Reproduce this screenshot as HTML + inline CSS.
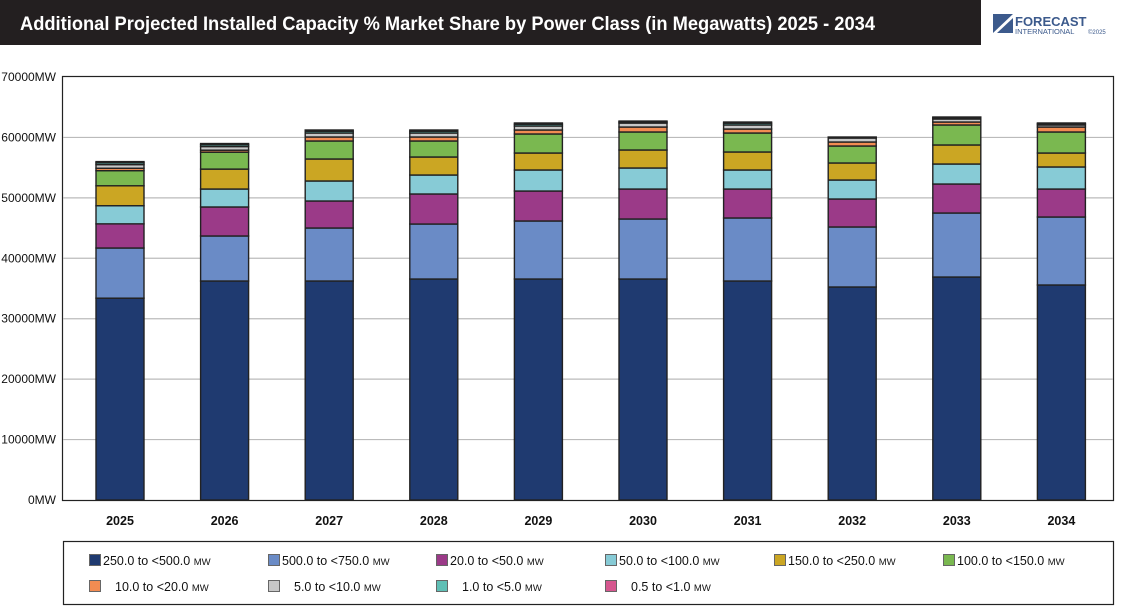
<!DOCTYPE html>
<html><head><meta charset="utf-8"><style>
body{margin:0;background:#fff;font-family:"Liberation Sans",Arial,sans-serif;}
#wrap{position:relative;width:1121px;height:611px;overflow:hidden;background:#fff}
</style></head><body>
<div id="wrap">
<svg id="svg" width="1121" height="611" xmlns="http://www.w3.org/2000/svg">
<rect x="0" y="0" width="981" height="45" fill="#231f20"/>
<text x="20" y="30" fill="#fff" font-size="19" font-weight="bold" textLength="855" lengthAdjust="spacingAndGlyphs">Additional Projected Installed Capacity % Market Share by Power Class (in Megawatts) 2025 - 2034</text>
<g>
<rect x="993" y="14" width="20" height="19" fill="#3c5a8c"/>
<polygon points="993,33 1013,14 1013,18 997,33" fill="#fff"/>
<text x="1015" y="26" font-size="13" font-weight="bold" fill="#3c5a8c">FORECAST</text>
<text x="1015" y="34" font-size="7.5" fill="#3c5a8c">INTERNATIONAL</text>
<text x="1088" y="34" font-size="6" fill="#3c5a8c">©2025</text>
</g>
<rect x="62.5" y="76.5" width="1051" height="424" fill="#fff" stroke="#222" stroke-width="1.2"/>
<g id="grid"></g><g id="bars"></g><g id="axes"></g>
<rect x="63.5" y="541.5" width="1050" height="63" fill="#fff" stroke="#222" stroke-width="1.2"/>
<g id="legend"></g>
</svg>
</div>
<script>
const years = ["2025","2026","2027","2028","2029","2030","2031","2032","2033","2034"];
const seriesNames = ["250.0 to <500.0","500.0 to <750.0","20.0 to <50.0","50.0 to <100.0","150.0 to <250.0","100.0 to <150.0","10.0 to <20.0","5.0 to <10.0","1.0 to <5.0","0.5 to <1.0"];
const yTicks = [0,10000,20000,30000,40000,50000,60000,70000];
const s250 = [33400,36240,36240,36570,36570,36570,36240,35250,36900,35580];
const s500 = [8300,7450,8770,9100,9600,9930,10430,9930,10590,11250];
const s20 = [4000,4800,4470,4970,4960,4960,4790,4630,4800,4630];
const s50 = [3000,2970,3310,3140,3480,3480,3150,3140,3310,3650];
const s150 = [3300,3300,3640,2980,2810,2980,2980,2820,3150,2310];
const s100 = [2500,2800,2980,2650,3150,2980,3140,2810,3310,3480];
const s10 = [400,330,660,660,660,820,660,660,490,820];
const s5 = [600,600,660,660,660,660,670,660,500,340];
const s1 = [300,300,300,300,300,200,300,100,200,200];
const s05 = [200,200,200,200,200,130,190,70,130,130];
const series = [s250,s500,s20,s50,s150,s100,s10,s5,s1,s05];
const colors = ["#1f3a70","#6a8bc6","#9b3a88","#87cbd6","#cba623","#7ab850","#f28c52","#c8c8c8","#5fbfb5","#d6578f"];
const NS="http://www.w3.org/2000/svg";
const y0=500, yMax=70000, yTop=77;
function yScale(v){return y0-(v/yMax)*(y0-yTop);}
function xScale(i){return 120+i*104.6;}
const barW=48;
function mk(tag,attrs,parent){const e=document.createElementNS(NS,tag);for(const k in attrs)e.setAttribute(k,attrs[k]);parent.appendChild(e);return e;}
const grid=document.getElementById('grid'),axes=document.getElementById('axes'),bars=document.getElementById('bars'),legend=document.getElementById('legend');
yTicks.forEach(t=>{
  const y=yScale(t);
  if(t>0&&t<yMax){const l=mk('line',{x1:63,x2:1113,y1:y,y2:y,stroke:'#bbb','stroke-width':1.2},grid);
  
  }
  const tx=mk('text',{x:56,y:y+4,'text-anchor':'end','font-size':12,fill:'#111'},axes);
  tx.textContent=t+'MW';
  
  
});
years.forEach((yr,i)=>{
  const cx=xScale(i);
  let cum=0;
  series.forEach((s,k)=>{
    const b=yScale(cum), t=yScale(cum+s[i]);
    cum+=s[i];
    const r=mk('rect',{x:cx-barW/2,y:t,width:barW,height:Math.max(b-t,0.1),fill:colors[k],stroke:'#222','stroke-width':1.4},bars);
    
    
  });
  const tx=mk('text',{x:cx,y:525,'text-anchor':'middle','font-size':12.5,'font-weight':'bold',fill:'#111'},axes);
  tx.textContent=yr;
  
  
});
const lx=[90,269,437,606,775,944];
seriesNames.forEach((n,k)=>{
  const row=k<6?0:1, col=k<6?k:k-6;
  const x=lx[col], y=row?587:561;
  const sw=mk('rect',{x:x-0.5,y:y-6.5,width:11,height:11,fill:colors[k],stroke:'#666','stroke-width':1},legend);
  
  
  const tx=mk('text',{x:row?x+25:x+13,y:y+4,'font-size':12.5,fill:'#111'},legend);
  tx.textContent=n+' ';
  const ts=mk('tspan',{'font-size':9.5},tx);
  ts.textContent='MW';
  
  
});
</script>
</body></html>
